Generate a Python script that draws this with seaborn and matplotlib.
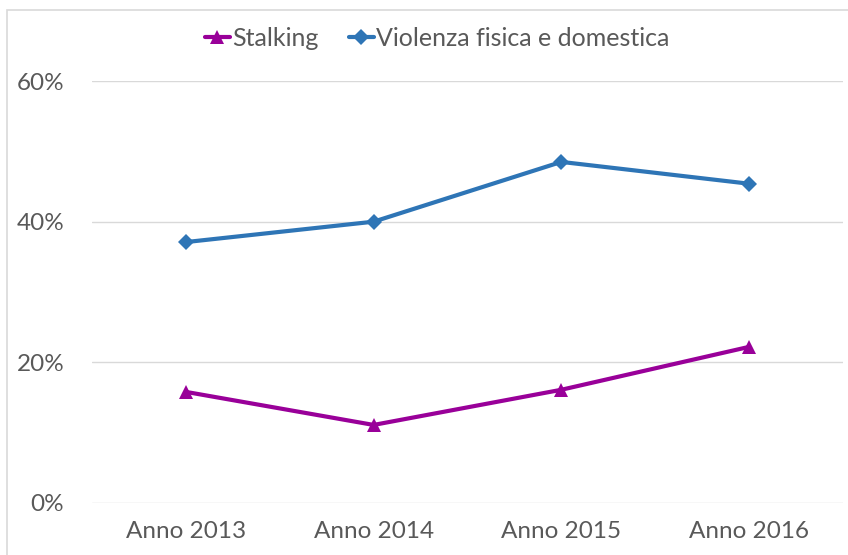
import matplotlib
matplotlib.use('Agg')

import matplotlib.pyplot as plt
import matplotlib.patches as mpatches
import matplotlib.ticker as mticker
import pandas as pd
import seaborn as sns


# =========================================================
# DATA
# =========================================================

years = ["Anno 2013", "Anno 2014", "Anno 2015", "Anno 2016"]

stalking = [15.8, 11.1, 16.1, 22.2]

violenza = [37.1, 40.0, 48.5, 45.4]

series_names = ["Stalking", "Violenza fisica e domestica"]

df = pd.DataFrame({
    "Anno": years * 2,
    "Valore": stalking + violenza,
    "Serie": [series_names[0]] * len(years) + [series_names[1]] * len(years),
})


# =========================================================
# STYLE
# =========================================================

sns.set_style("white")
plt.rcParams['font.family'] = ['Lato', 'DejaVu Sans']

text_color = "#595959"
palette = {series_names[0]: "#990099", series_names[1]: "#2E75B6"}
markers = {series_names[0]: "^", series_names[1]: "D"}
marker_sizes = {series_names[0]: 10.5, series_names[1]: 8}


# =========================================================
# FIGURE
# =========================================================

fig = plt.figure(figsize=(8.48, 5.55), dpi=100)
ax = fig.add_axes([0.1085, 0.0937, 0.8855, 0.7603])

sns.lineplot(
    data=df,
    x="Anno",
    y="Valore",
    hue="Serie",
    style="Serie",
    markers=markers,
    dashes=False,
    palette=palette,
    linewidth=3.0,
    markeredgewidth=0,
    sort=False,
    ax=ax
)

for line, name in zip(ax.get_lines(), series_names):
    line.set_markersize(marker_sizes[name])

ax.set_xlim(-0.5, 3.5)
ax.set_ylim(0, 60)
ax.set_yticks([0, 20, 40, 60])
ax.yaxis.set_major_formatter(mticker.FuncFormatter(lambda v, p: f"{v:.0f}%"))

ax.grid(axis='y', color="#D9D9D9", linewidth=1)
ax.set_axisbelow(True)
for s in ax.spines.values():
    s.set_visible(False)

ax.tick_params(axis='both', length=0, labelsize=17.5, labelcolor=text_color)
ax.tick_params(axis='x', pad=13)
ax.tick_params(axis='y', pad=20)
ax.set_xlabel("")
ax.set_ylabel("")

handles, labels = ax.get_legend_handles_labels()
for h, name in zip(handles, labels):
    h.set_markersize(marker_sizes[name])
ax.legend(
    handles,
    labels,
    loc='center',
    bbox_to_anchor=(437 / 848, 1 - 38 / 555),
    bbox_transform=fig.transFigure,
    ncol=2,
    frameon=False,
    fontsize=18,
    labelcolor=text_color,
    handlelength=1.0,
    handletextpad=0.1,
    columnspacing=1.2
)

# chart area border
fig.patches.append(
    mpatches.Rectangle(
        (7 / 848, -0.1),
        1.2,
        1.1 - 10 / 555,
        transform=fig.transFigure,
        fill=False,
        edgecolor="#D9D9D9",
        linewidth=1.2
    )
)

plt.savefig("out.png", dpi=100)
plt.close()
